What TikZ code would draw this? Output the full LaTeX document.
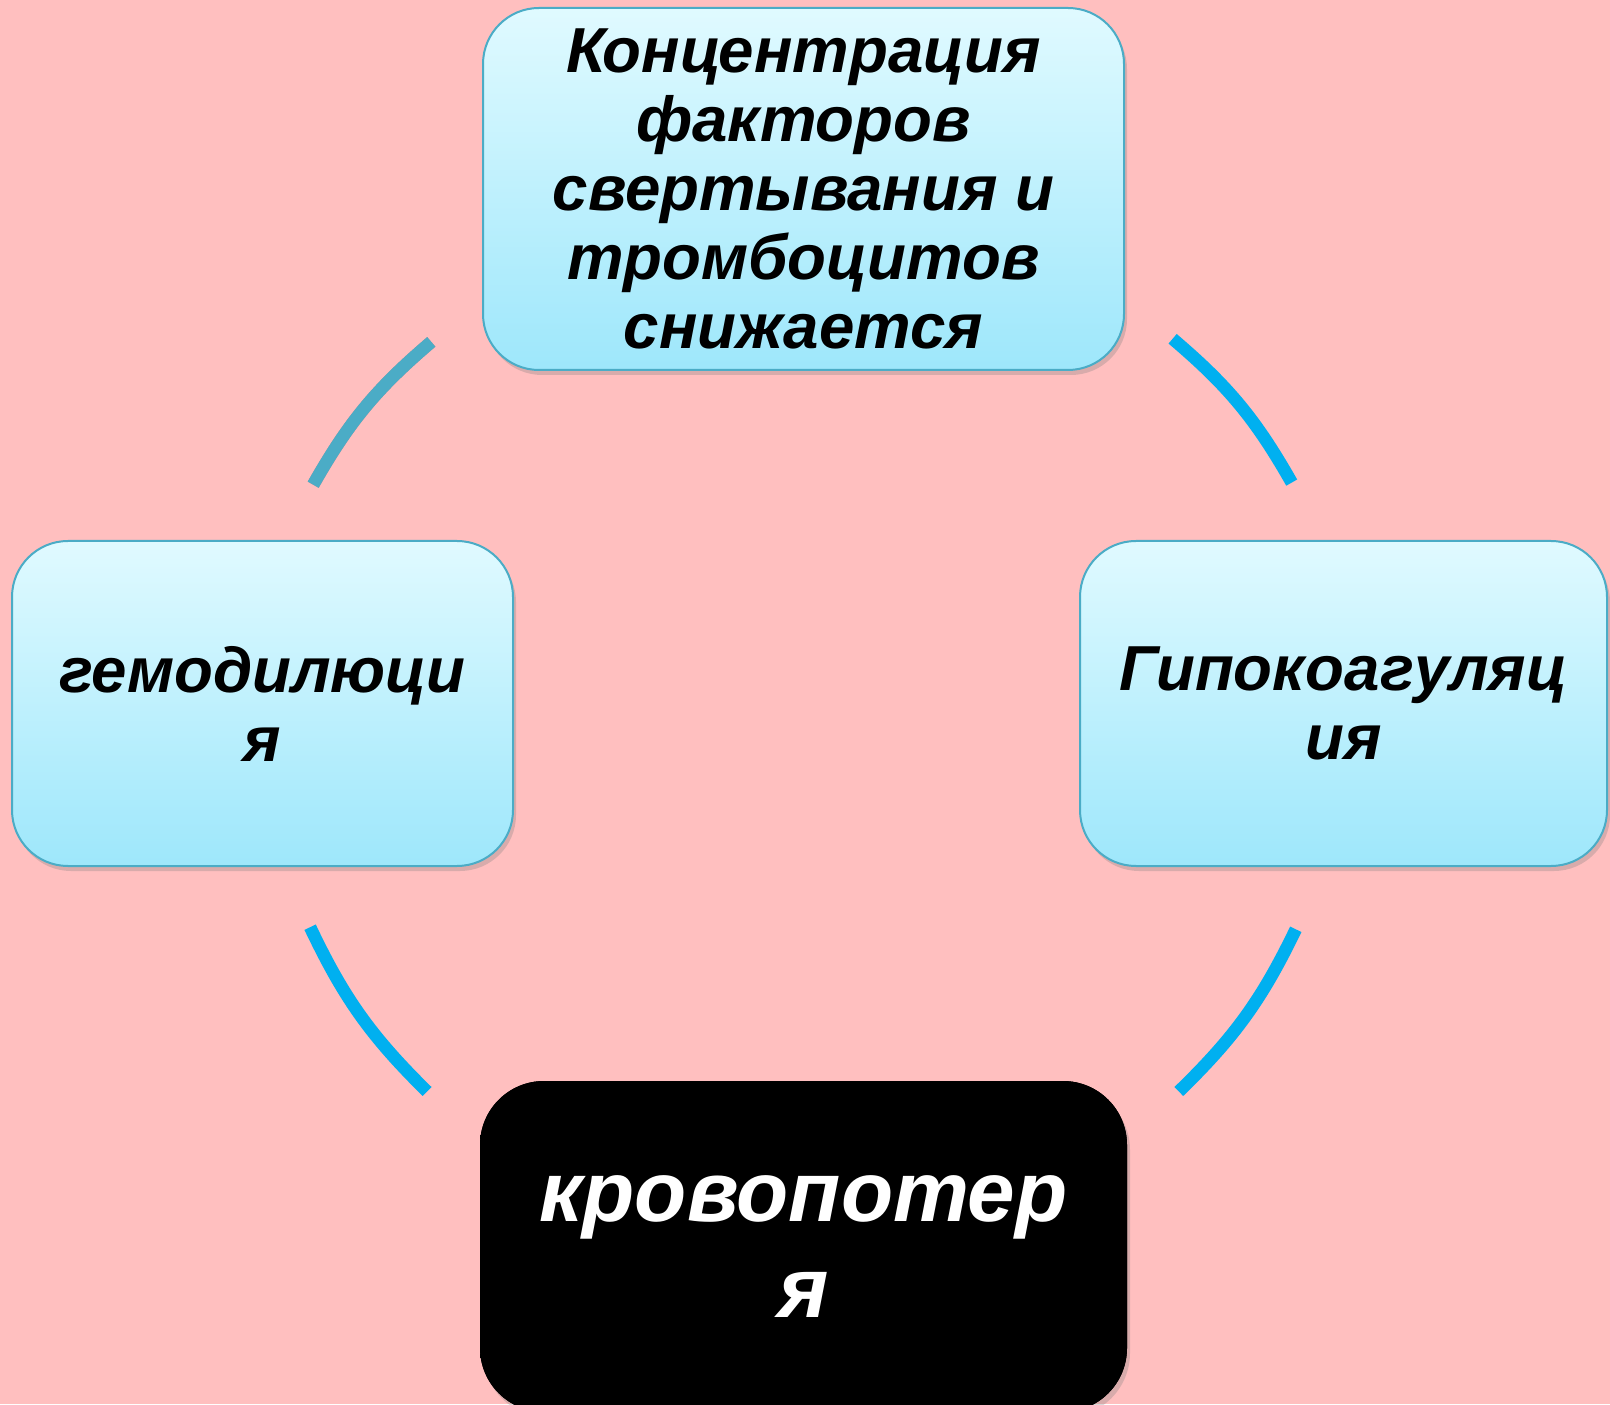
\documentclass[tikz,border=0pt]{standalone}
\usepackage{fontspec}
\setmainfont{Liberation Sans}
\usetikzlibrary{shadows}
\definecolor{fonrose}{HTML}{FFBFBF}
\definecolor{boxtop}{HTML}{E0FAFF}
\definecolor{boxbot}{HTML}{9EE7FB}
\definecolor{boxline}{HTML}{4BACC6}
\definecolor{arcblue}{HTML}{00B0F0}

\begin{document}
\begin{tikzpicture}[x=0.5pt,y=0.5pt,
   bx/.style={rounded corners=28pt,draw=boxline,line width=1pt,top color=boxtop,bottom color=boxbot,
     align=center,inner sep=0pt,font=\fontsize{31.8}{34.5}\selectfont\bfseries\itshape,
     drop shadow={shadow xshift=1.5pt,shadow yshift=-2.5pt,opacity=0.3}},
   ark/.style={draw=arcblue,line width=6.3pt}]
  \fill[fonrose] (0,0) rectangle (1610,1404);
  \useasboundingbox (0,0) rectangle (1610,1404);
  % boxes
  \node[bx,minimum width=320.5pt,minimum height=181pt] (konc) at (803.5,1215)
    {Концентрация\\факторов\\свертывания и\\тромбоцитов\\снижается};
  \node[bx,minimum width=250.5pt,minimum height=162.5pt] (gemo) at (262.5,700.5) {гемодилюци\\я};
  \node[bx,minimum width=263.5pt,minimum height=162.5pt] (gipo) at (1343.5,700.5) {Гипокоагуляц\\ия};
  \node[bx,fill=black,top color=black,bottom color=black,draw=none,text=white,rounded corners=32pt,
    font=\fontsize{42.7}{48}\selectfont\bfseries\itshape,
    minimum width=323.5pt,minimum height=165.5pt] (krov) at (803.5,157.5) {кровопотер\\я};
  % arcs
  \coordinate (tla) at (431.3,1062.1);  \coordinate (tlb) at (313.2,919.3);
  \coordinate (tra) at (1172.6,1065.2); \coordinate (trb) at (1291.7,921.4);
  \coordinate (bla) at (310.1,476.8);   \coordinate (blb) at (427.1,312.5);
  \coordinate (bra) at (1295.8,474.7);  \coordinate (brb) at (1178.8,312.5);
  \draw[draw=black,opacity=0.25,line width=6.3pt,shift={(4,-6)}] (tla) to[bend right=10] (tlb);
  \draw[ark,draw=boxline] (tla) to[bend right=10] (tlb);
  \draw[ark] (tra) to[bend left=10] (trb);
  \draw[ark] (bla) to[bend right=10] (blb);
  \draw[ark] (bra) to[bend left=10] (brb);
\end{tikzpicture}
\end{document}
